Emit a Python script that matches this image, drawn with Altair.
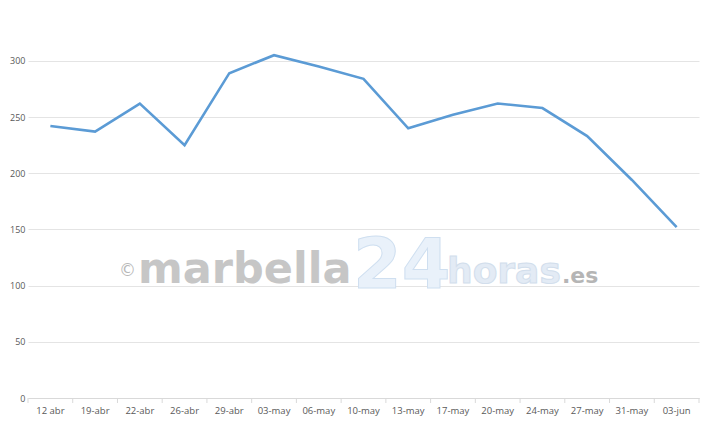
import altair as alt
import pandas as pd

dates = ["12 abr", "19-abr", "22-abr", "26-abr", "29-abr", "03-may", "06-may",
         "10-may", "13-may", "17-may", "20-may", "24-may", "27-may", "31-may", "03-jun"]
values = [242, 237, 262, 225, 289, 305, 295, 284, 240, 252, 262, 258, 233, 194, 152]
y_ticks = [0, 50, 100, 150, 200, 250, 300]

df = pd.DataFrame({"fecha": dates, "valor": values})
FONT = "Open Sans"

xscale = alt.Scale(type="band", paddingInner=0, paddingOuter=0, domain=dates)
yscale = alt.Scale(domain=[0, 347], nice=False, zero=True)

xaxis = alt.Axis(title=None, labelAngle=0, ticks=False, domain=True, bandPosition=0.5,
                 domainColor="#d9d9d9", labelColor="#595959", labelFont=FONT,
                 labelFontSize=9.5, labelPadding=7, grid=False, labelFlush=False)

line = alt.Chart(df).mark_line(color="#5B9BD5", strokeWidth=2.6, strokeJoin="miter").encode(
    x=alt.X("fecha:N", sort=dates, scale=xscale, bandPosition=0.5, axis=xaxis),
    y=alt.Y("valor:Q", scale=yscale,
            axis=alt.Axis(title=None, values=y_ticks, ticks=False, domain=False,
                          gridColor="#e4e4e4", labelColor="#595959", labelFont=FONT,
                          labelFontSize=9, labelPadding=3)),
)

ticks = alt.Chart(df).mark_rule(color="#d9d9d9", strokeWidth=1).encode(
    x=alt.X("fecha:N", sort=dates, scale=xscale, bandPosition=0, axis=xaxis),
    y=alt.value(390), y2=alt.value(395),
)
end_tick = alt.Chart(pd.DataFrame({"fecha": [dates[-1]]})).mark_rule(color="#d9d9d9").encode(
    x=alt.X("fecha:N", sort=dates, scale=xscale, bandPosition=1, axis=xaxis),
    y=alt.value(390), y2=alt.value(395),
)

def wm(txt, x, y, size, color, stroke=None, weight="bold", font="DejaVu Sans"):
    kw = dict(align="left", baseline="alphabetic", fontSize=size, font=font,
              fontWeight=weight, color=color)
    if stroke:
        kw.update(stroke=stroke, strokeWidth=1)
    return alt.Chart(pd.DataFrame({"t": [txt]})).mark_text(**kw).encode(
        x=alt.value(x), y=alt.value(y), text="t:N")

ox, oy = 28, 8
watermark = [
    wm("©", 119 - ox, 276 - oy, 17, "#b8b8b8", weight="normal"),
    wm("marbella", 138 - ox, 283 - oy, 43, "#c6c6c6"),
    wm("24", 353 - ox, 288 - oy, 70, "#e9f1fa", stroke="#cfdff0"),
    wm("horas", 447 - ox, 283 - oy, 36, "#e3ebf5", stroke="#d2deec"),
    wm(".es", 562 - ox, 283 - oy, 22, "#b5b5b5"),
]

chart = alt.layer(*watermark, ticks, end_tick, line).properties(
    width=671, height=390,
    padding={"left": 20, "top": 0, "right": 15, "bottom": 24},
    autosize=alt.AutoSizeParams(type="none"),
    background="white",
).configure_view(stroke=None)

chart.save("out.html", embed_options={"renderer": "svg", "actions": False})
